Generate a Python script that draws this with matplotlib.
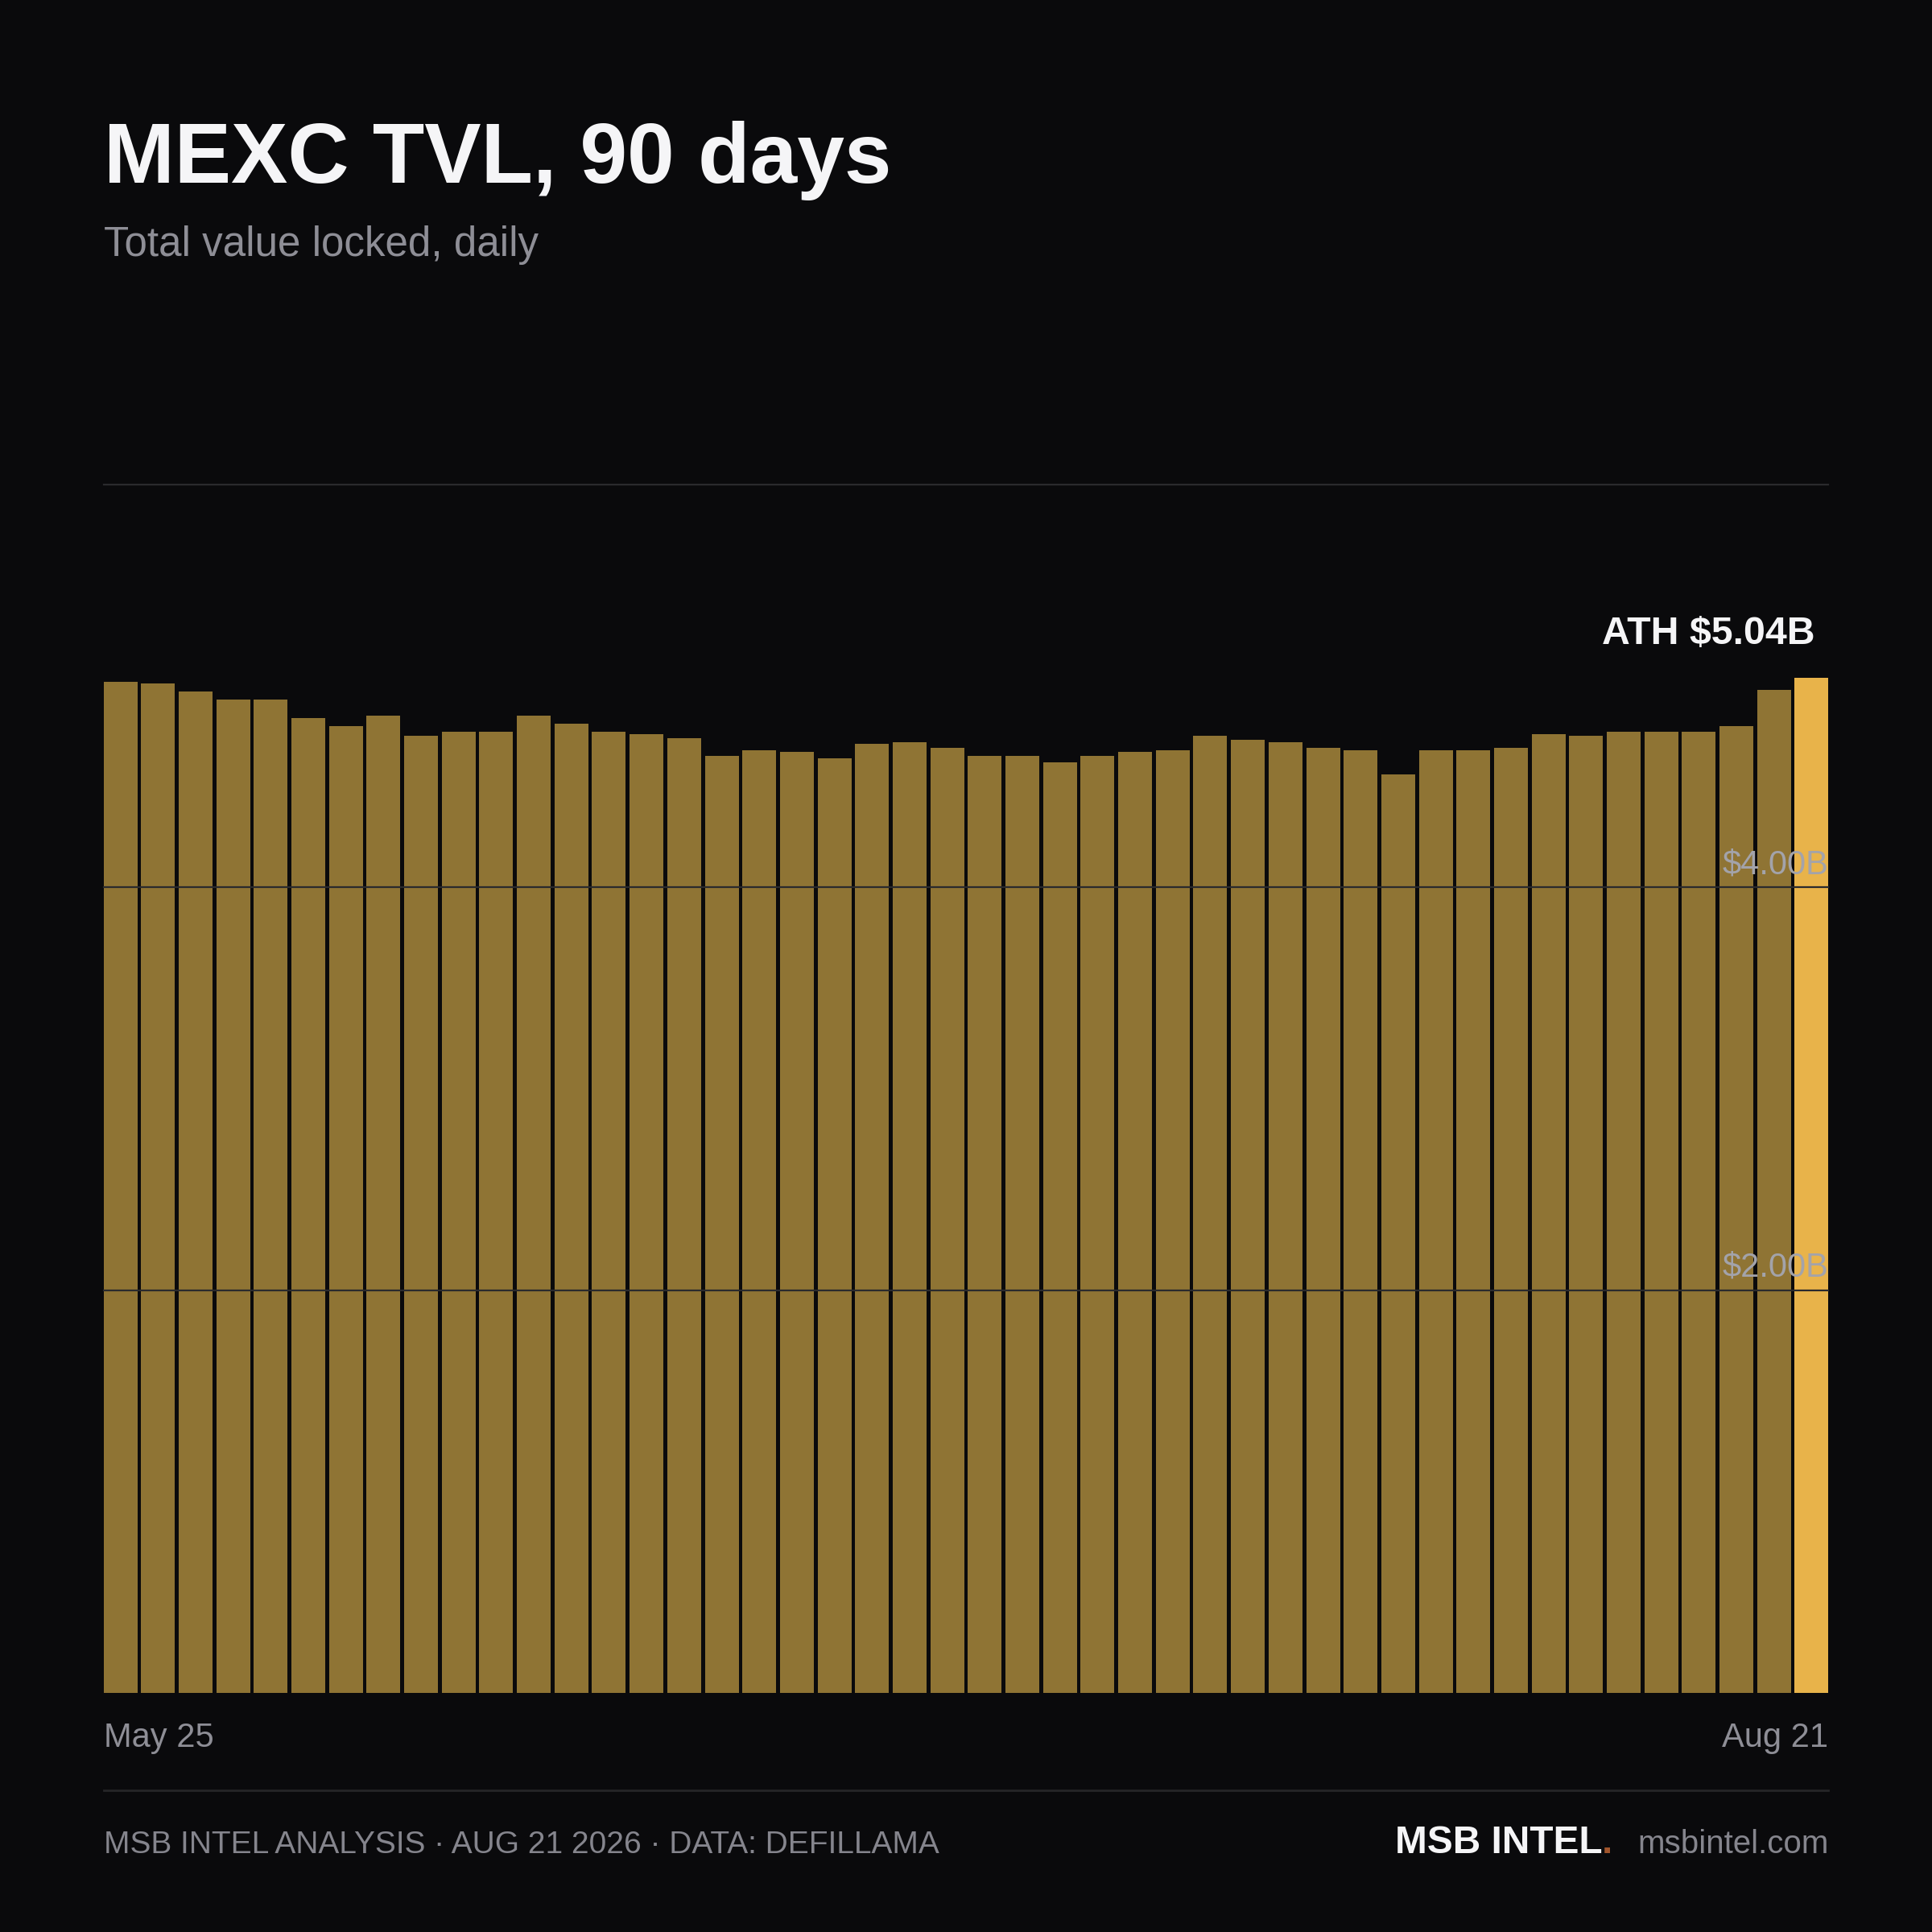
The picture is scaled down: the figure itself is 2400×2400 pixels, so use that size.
import numpy as np
import matplotlib
matplotlib.use("Agg")
import matplotlib.pyplot as plt

plt.rcParams['font.family'] = ['Liberation Sans', 'DejaVu Sans']

# daily TVL in $B, May 25 -> Aug 21
tvl = [5.02, 5.01, 4.97, 4.93, 4.93, 4.84, 4.80, 4.85, 4.75, 4.77,
       4.77, 4.85, 4.81, 4.77, 4.76, 4.74, 4.65, 4.68, 4.67, 4.64,
       4.71, 4.72, 4.69, 4.65, 4.65, 4.62, 4.65, 4.67, 4.68, 4.75,
       4.73, 4.72, 4.69, 4.68, 4.56, 4.68, 4.68, 4.69, 4.76, 4.75,
       4.77, 4.77, 4.77, 4.80, 4.98, 5.04]
grid_vals = [2, 4, 6]
grid_labels = ['$2.00B', '$4.00B', '']
start_label = 'May 25'
end_label = 'Aug 21'
ath_label = 'ATH $5.04B'

BG = '#0a0a0c'
BAR = '#8f7434'
HI = '#e8b34a'
GRID = '#2a2a2d'

fig = plt.figure(figsize=(12, 12), dpi=200, facecolor=BG)
L, R = 84 / 1568, 1484 / 1568
bot, top = 1 - 1374 / 1568, 1 - 393 / 1568
ax = fig.add_axes([L, bot, R - L, top - bot])
ax.set_facecolor(BG)

n = len(tvl)
x = np.arange(n)
colors = [BAR] * (n - 1) + [HI]
ax.bar(x, tvl, width=0.9, align='edge', color=colors, zorder=2)
ax.set_xlim(0, n - 0.1)
ax.set_ylim(0, 6)

for v, lab in zip(grid_vals, grid_labels):
    ax.axhline(v, color=GRID, lw=0.8, zorder=3, clip_on=False)
    if lab:
        ax.annotate(lab, xy=(1, v), xycoords=('axes fraction', 'data'),
                    xytext=(0, 6), textcoords='offset points',
                    ha='right', va='baseline', fontsize=15,
                    color='#a3a3aa', zorder=4)

ax.annotate(ath_label, xy=(n - 0.1, tvl[-1]), xytext=(-6, 15),
            textcoords='offset points', ha='right', va='baseline',
            fontsize=17.4, fontweight='bold', color='#f5f5f7')

for s in ax.spines.values():
    s.set_visible(False)
ax.set_xticks([])
ax.set_yticks([])

# header
fig.text(L, 1 - 148 / 1568, 'MEXC TVL, 90 days', fontsize=38, fontweight='bold',
         color='#f5f5f7', ha='left', va='baseline')
fig.text(L, 1 - 208 / 1568, 'Total value locked, daily', fontsize=18.4,
         color='#8e8e96', ha='left', va='baseline')

# x labels
fig.text(L, 1 - 1418 / 1568, start_label, fontsize=15, color='#8e8e96',
         ha='left', va='baseline')
fig.text(R, 1 - 1418 / 1568, end_label, fontsize=15, color='#8e8e96',
         ha='right', va='baseline')

# footer
fig.add_artist(plt.Line2D([L, R], [1 - 1453 / 1568] * 2, color='#252528', lw=1.0,
                          transform=fig.transFigure))
fy = 1 - 1504 / 1568
fig.text(L, fy, 'MSB INTEL ANALYSIS \u00b7 AUG 21 2026 \u00b7 DATA: DEFILLAMA',
         fontsize=14, color='#85858d', ha='left', va='baseline')

fig.canvas.draw()
r = fig.canvas.get_renderer()
site = fig.text(R, fy, 'msbintel.com', fontsize=14.5, color='#85858d',
                ha='right', va='baseline')
bb = site.get_window_extent(r)
gap = 20 * 2400 / 1568
dot = fig.text((bb.x0 - gap) / 2400, fy, '.', fontsize=17.2, fontweight='bold',
               color='#a0552c', ha='right', va='baseline')
db = dot.get_window_extent(r)
fig.text(db.x0 / 2400, fy, 'MSB INTEL', fontsize=17.2, fontweight='bold',
         color='#f5f5f7', ha='right', va='baseline')

fig.savefig('out.png', dpi=200, facecolor=BG)
